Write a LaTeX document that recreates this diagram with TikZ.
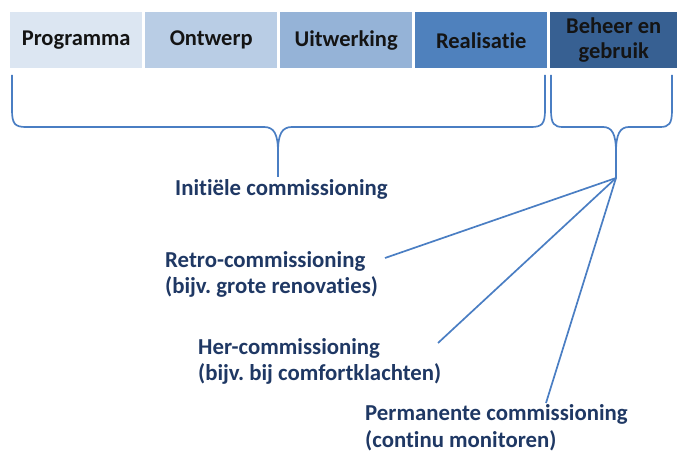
\documentclass[tikz,border=0pt]{standalone}
\usepackage{fontspec}
\setmainfont[Ligatures=NoCommon]{Carlito}
\frenchspacing
\definecolor{c1}{HTML}{DCE6F2}
\definecolor{c2}{HTML}{B9CDE5}
\definecolor{c3}{HTML}{95B3D7}
\definecolor{c4}{HTML}{4F81BD}
\definecolor{c5}{HTML}{376092}
\definecolor{linec}{HTML}{4A7EC3}
\definecolor{navy}{HTML}{1F3864}
\definecolor{boxtext}{HTML}{141414}
\tikzset{
  phase/.style={minimum height=56pt, inner sep=0pt, anchor=north west,
    font=\bfseries\fontsize{22.5}{25}\selectfont, text=boxtext, align=center},
  lbl/.style={anchor=base west, inner sep=0pt, align=left, text=navy,
    font=\bfseries\fontsize{22.8}{26.8}\selectfont},
  brc/.style={draw=linec, line width=1.7pt, line join=round},
  conn/.style={draw=linec, line width=1.7pt},
}
\begin{document}
\begin{tikzpicture}[x=1pt,y=-1pt]
\useasboundingbox (0,0) rectangle (678,454);
% phase boxes
\node[phase, fill=c1, minimum width=132pt] (p1) at (10,12) {Programma};
\node[phase, fill=c2, minimum width=132pt] (p2) at (145,12) {Ontwerp};
\node[phase, fill=c3, minimum width=132pt] (p3) at (280,12) {Uitwerking};
\node[phase, fill=c4, minimum width=132pt] (p4) at (415,12) {Realisatie};
\node[phase, fill=c5, minimum width=127pt] (p5) at (550,12) {Beheer en\\gebruik};
% brace 1
\draw[brc] (12,75) -- (12,110) .. controls (12,124) and (15,127) .. (26,127)
  -- (264,127) .. controls (274,127) and (278,134) .. (278,152) -- (278,177);
\draw[brc] (545,75) -- (545,110) .. controls (545,124) and (542,127) .. (531,127)
  -- (292,127) .. controls (282,127) and (278,134) .. (278,152);
% brace 2
\draw[brc] (551,75) -- (551,110) .. controls (551,124) and (554,127) .. (563,127)
  -- (603,127) .. controls (612,127) and (616,134) .. (616,152) -- (616,178);
\draw[brc] (672,75) -- (672,110) .. controls (672,124) and (669,127) .. (660,127)
  -- (629,127) .. controls (620,127) and (616,134) .. (616,152);
\coordinate (apex) at (616,178);
% labels (base = baseline of last line)
\node[lbl] (init) at (175,196) {Initiële commissioning};
\node[lbl] (retro) at (165,294) {Retro-commissioning\\(bijv. grote renovaties)};
\node[lbl] (her) at (198,381) {Her-commissioning\\(bijv. bij comfortklachten)};
\node[lbl] (perm) at (365,447) {Permanente commissioning\\(continu monitoren)};
% connector ends
\coordinate (retroEnd) at (385,258);
\coordinate (herEnd) at (438,343);
\coordinate (permEnd) at (546,403);
\draw[conn] (apex) -- (retroEnd);
\draw[conn] (apex) -- (herEnd);
\draw[conn] (apex) -- (permEnd);
\end{tikzpicture}
\end{document}
